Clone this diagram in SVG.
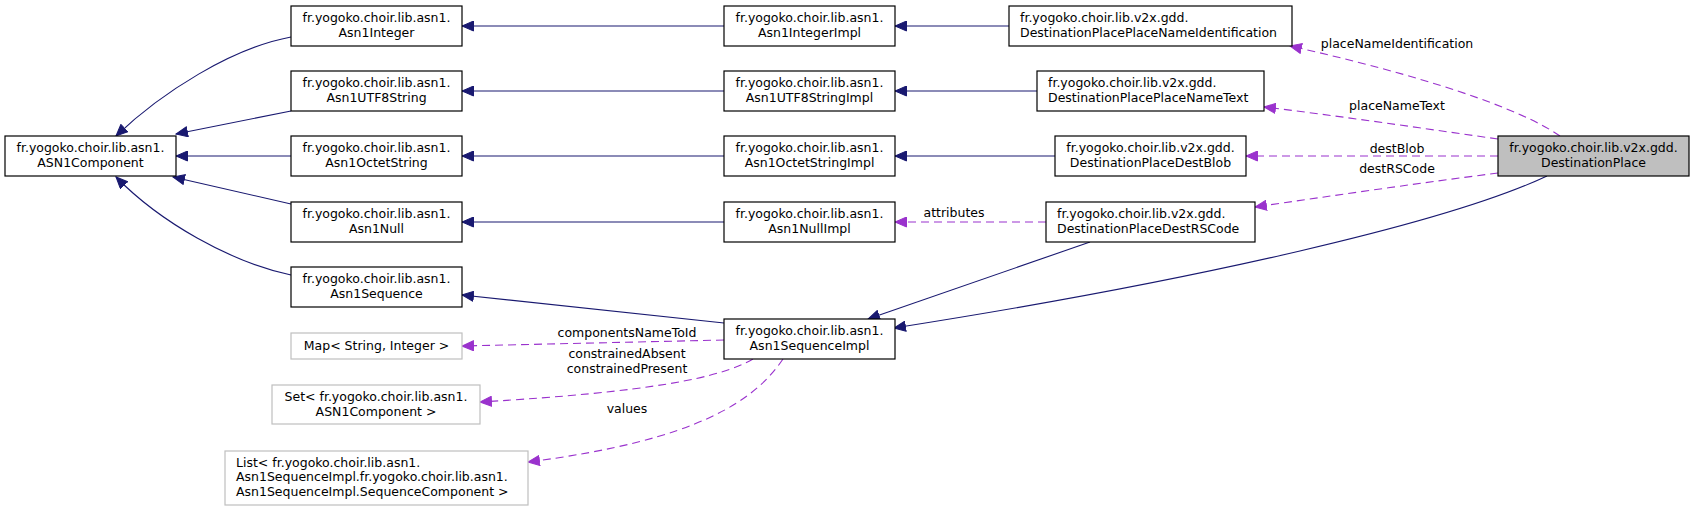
<svg xmlns="http://www.w3.org/2000/svg" width="1695" height="511" viewBox="0 0 1695 511">
<style>
.node rect{fill:#fff;stroke:#000;stroke-width:1.2}
.node.ext rect{stroke:#bfbfbf}
.node.hl rect{fill:#bfbfbf}
text{font-family:"DejaVu Sans",sans-serif;font-size:12.5px;fill:#000}
.c{text-anchor:middle}
.inh{fill:none;stroke:#191970;stroke-width:1.1;marker-end:url(#ai)}
.use{fill:none;stroke:#9a32cd;stroke-width:1.1;stroke-dasharray:8,5;marker-end:url(#au)}
</style>
<defs>
<marker id="ai" markerUnits="userSpaceOnUse" viewBox="0 0 13 11" markerWidth="13" markerHeight="11" refX="12" refY="5.5" orient="auto"><path d="M0.5,0.5 L12,5.5 L0.5,10.5 z" fill="#191970" stroke="#191970"/></marker>
<marker id="au" markerUnits="userSpaceOnUse" viewBox="0 0 13 11" markerWidth="13" markerHeight="11" refX="12" refY="5.5" orient="auto"><path d="M0.5,0.5 L12,5.5 L0.5,10.5 z" fill="#9a32cd" stroke="#9a32cd"/></marker>
</defs>
<g id="edges">
<path class="inh" d="M291,37 C232,48 162,92 116,136"/>
<path class="inh" d="M291,111 L176,134"/>
<path class="inh" d="M291,156 L176,156"/>
<path class="inh" d="M291,204 L173,177"/>
<path class="inh" d="M291,275 C230,262 160,222 116,177"/>
<path class="inh" d="M724,26 L462,26"/>
<path class="inh" d="M724,91 L462,91"/>
<path class="inh" d="M724,156 L462,156"/>
<path class="inh" d="M724,222 L462,222"/>
<path class="inh" d="M1009,26 L895,26"/>
<path class="inh" d="M1037,91 L895,91"/>
<path class="inh" d="M1055,156 L895,156"/>
<path class="inh" d="M724,323 L462,295"/>
<path class="inh" d="M1090,242 L868,319"/>
<path class="inh" d="M1547,176 C1450,222 1200,280 894,328"/>
<path class="use" d="M1560,136 C1520,108 1420,75 1290,46"/>
<path class="use" d="M1498,139 C1420,128 1340,116 1264,107"/>
<path class="use" d="M1498,156 L1246,156"/>
<path class="use" d="M1498,173 C1420,183 1330,196 1255,207"/>
<path class="use" d="M1046,222 L895,222"/>
<path class="use" d="M724,340 L462,346"/>
<path class="use" d="M753,359 C720,378 650,392 480,402"/>
<path class="use" d="M783,359 C755,400 700,440 528,462"/>
<text class="c" x="1397" y="48">placeNameIdentification</text>
<text class="c" x="1397" y="110">placeNameText</text>
<text class="c" x="1397" y="152.5">destBlob</text>
<text class="c" x="1397" y="172.5">destRSCode</text>
<text class="c" x="954" y="217">attributes</text>
<text class="c" x="627" y="337">componentsNameToId</text>
<text class="c" x="627" y="358">constrainedAbsent</text>
<text class="c" x="627" y="372.5">constrainedPresent</text>
<text class="c" x="627" y="413">values</text>
</g>
<g id="ASN1Component" class="node"><rect x="5" y="136" width="171" height="40"/><text class="c" x="90.5" y="152.3">fr.yogoko.choir.lib.asn1.</text><text class="c" x="90.5" y="166.8">ASN1Component</text></g>
<g id="Asn1Integer" class="node"><rect x="291" y="6" width="171" height="40"/><text class="c" x="376.5" y="22.3">fr.yogoko.choir.lib.asn1.</text><text class="c" x="376.5" y="36.8">Asn1Integer</text></g>
<g id="Asn1UTF8String" class="node"><rect x="291" y="71" width="171" height="40"/><text class="c" x="376.5" y="87.3">fr.yogoko.choir.lib.asn1.</text><text class="c" x="376.5" y="101.8">Asn1UTF8String</text></g>
<g id="Asn1OctetString" class="node"><rect x="291" y="136" width="171" height="40"/><text class="c" x="376.5" y="152.3">fr.yogoko.choir.lib.asn1.</text><text class="c" x="376.5" y="166.8">Asn1OctetString</text></g>
<g id="Asn1Null" class="node"><rect x="291" y="202" width="171" height="40"/><text class="c" x="376.5" y="218.3">fr.yogoko.choir.lib.asn1.</text><text class="c" x="376.5" y="232.8">Asn1Null</text></g>
<g id="Asn1Sequence" class="node"><rect x="291" y="267" width="171" height="40"/><text class="c" x="376.5" y="283.3">fr.yogoko.choir.lib.asn1.</text><text class="c" x="376.5" y="297.8">Asn1Sequence</text></g>
<g id="Map" class="node ext"><rect x="291" y="333" width="171" height="26"/><text class="c" x="376.5" y="350">Map&lt; String, Integer &gt;</text></g>
<g id="Set" class="node ext"><rect x="272" y="385" width="208" height="39"/><text class="c" x="376" y="401">Set&lt; fr.yogoko.choir.lib.asn1.</text><text class="c" x="376" y="415.5">ASN1Component &gt;</text></g>
<g id="List" class="node ext"><rect x="225" y="451" width="303" height="54"/><text x="236" y="466.7">List&lt; fr.yogoko.choir.lib.asn1.</text><text x="236" y="481.2">Asn1SequenceImpl.fr.yogoko.choir.lib.asn1.</text><text x="236" y="495.7">Asn1SequenceImpl.SequenceComponent &gt;</text></g>
<g id="Asn1IntegerImpl" class="node"><rect x="724" y="6" width="171" height="40"/><text class="c" x="809.5" y="22.3">fr.yogoko.choir.lib.asn1.</text><text class="c" x="809.5" y="36.8">Asn1IntegerImpl</text></g>
<g id="Asn1UTF8StringImpl" class="node"><rect x="724" y="71" width="171" height="40"/><text class="c" x="809.5" y="87.3">fr.yogoko.choir.lib.asn1.</text><text class="c" x="809.5" y="101.8">Asn1UTF8StringImpl</text></g>
<g id="Asn1OctetStringImpl" class="node"><rect x="724" y="136" width="171" height="40"/><text class="c" x="809.5" y="152.3">fr.yogoko.choir.lib.asn1.</text><text class="c" x="809.5" y="166.8">Asn1OctetStringImpl</text></g>
<g id="Asn1NullImpl" class="node"><rect x="724" y="202" width="171" height="40"/><text class="c" x="809.5" y="218.3">fr.yogoko.choir.lib.asn1.</text><text class="c" x="809.5" y="232.8">Asn1NullImpl</text></g>
<g id="Asn1SequenceImpl" class="node"><rect x="724" y="319" width="171" height="40"/><text class="c" x="809.5" y="335.3">fr.yogoko.choir.lib.asn1.</text><text class="c" x="809.5" y="349.8">Asn1SequenceImpl</text></g>
<g id="DestinationPlacePlaceNameIdentification" class="node"><rect x="1009" y="6" width="283" height="40"/><text x="1020" y="22.3">fr.yogoko.choir.lib.v2x.gdd.</text><text x="1020" y="36.8">DestinationPlacePlaceNameIdentification</text></g>
<g id="DestinationPlacePlaceNameText" class="node"><rect x="1037" y="71" width="227" height="40"/><text x="1048" y="87.3">fr.yogoko.choir.lib.v2x.gdd.</text><text x="1048" y="101.8">DestinationPlacePlaceNameText</text></g>
<g id="DestinationPlaceDestBlob" class="node"><rect x="1055" y="136" width="191" height="40"/><text class="c" x="1150.5" y="152.3">fr.yogoko.choir.lib.v2x.gdd.</text><text class="c" x="1150.5" y="166.8">DestinationPlaceDestBlob</text></g>
<g id="DestinationPlaceDestRSCode" class="node"><rect x="1046" y="202" width="209" height="40"/><text x="1057" y="218.3">fr.yogoko.choir.lib.v2x.gdd.</text><text x="1057" y="232.8">DestinationPlaceDestRSCode</text></g>
<g id="DestinationPlace" class="node hl"><rect x="1498" y="136" width="191" height="40"/><text class="c" x="1593.5" y="152.3">fr.yogoko.choir.lib.v2x.gdd.</text><text class="c" x="1593.5" y="166.8">DestinationPlace</text></g>
</svg>
